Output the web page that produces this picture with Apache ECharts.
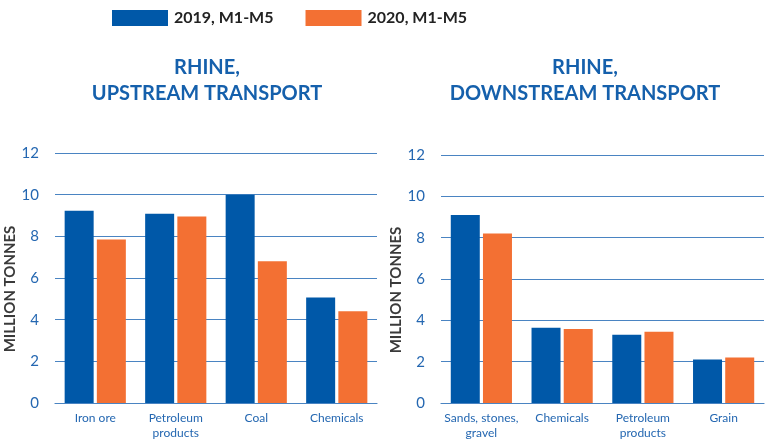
<!DOCTYPE html>
<html>
<head>
<meta charset="utf-8">
<script src="https://cdn.jsdelivr.net/npm/echarts@6/dist/echarts.min.js"></script>
<style>
  html, body { margin: 0; padding: 0; background: #fff; }
  #main { width: 768px; height: 441px; }
</style>
</head>
<body>
<div id="main"></div>
<script>
// 数据
var seriesNames = ['2019, M1-M5', '2020, M1-M5'];
var upCategories = ['Iron ore', 'Petroleum\nproducts', 'Coal', 'Chemicals'];
var up2019 = [9.23, 9.09, 10.0, 5.06];
var up2020 = [7.85, 8.95, 6.8, 4.4];
var downCategories = ['Sands, stones,\ngravel', 'Chemicals', 'Petroleum\nproducts', 'Grain'];
var down2019 = [9.1, 3.64, 3.3, 2.1];
var down2020 = [8.2, 3.58, 3.45, 2.2];
var yTicks = [0, 2, 4, 6, 8, 10, 12];

var blue = '#0058a8';
var orange = '#f37033';
var labelBlue = '#2467b1';
var gridBlue = '#4a84c2';
var font = 'Lato';

var myChart = echarts.init(document.getElementById('main'));

function yAxis(idx) {
    return {
        type: 'value',
        gridIndex: idx,
        min: yTicks[0],
        max: yTicks[yTicks.length - 1],
        interval: yTicks[1] - yTicks[0],
        name: 'MILLION TONNES',
        nameLocation: 'middle',
        nameGap: 36,
        nameTextStyle: {
            color: '#3a3a3a',
            fontFamily: font,
            fontWeight: 'bold',
            fontSize: 15,
            padding: [0, 22, 0, 0]
        },
        axisLine: {show: false},
        axisTick: {show: false},
        axisLabel: {
            color: labelBlue,
            fontFamily: font,
            fontSize: 15,
            margin: 16
        },
        splitLine: {lineStyle: {color: gridBlue, width: 1.2}}
    };
}

function xAxis(idx, cats) {
    return {
        type: 'category',
        gridIndex: idx,
        data: cats,
        axisLine: {lineStyle: {color: gridBlue, width: 1.2}},
        axisTick: {show: false},
        axisLabel: {
            color: labelBlue,
            fontFamily: font,
            fontSize: 12,
            lineHeight: 15,
            margin: 8,
            interval: 0
        }
    };
}

function bars(name, idx, data, color) {
    return {
        name: name,
        type: 'bar',
        xAxisIndex: idx,
        yAxisIndex: idx,
        data: data,
        barWidth: 29,
        barGap: '11%',
        itemStyle: {color: color},
        emphasis: {disabled: true}
    };
}

var titleStyle = {
    color: '#1560ac',
    fontFamily: font,
    fontWeight: 'bold',
    fontSize: 20,
    lineHeight: 26
};

option = {
    animation: false,
    legend: {
        data: seriesNames,
        top: 5,
        left: 107,
        itemWidth: 56,
        itemHeight: 16,
        itemGap: 32,
        icon: 'rect',
        textStyle: {
            color: '#222',
            fontFamily: font,
            fontWeight: 'bold',
            fontSize: 16,
            padding: [0, 0, 0, 1]
        }
    },
    title: [
        {text: 'RHINE,\nUPSTREAM TRANSPORT', left: 202, top: 50, textAlign: 'center', textStyle: titleStyle},
        {text: 'RHINE,\nDOWNSTREAM TRANSPORT', left: 580, top: 50, textAlign: 'center', textStyle: titleStyle}
    ],
    grid: [
        {left: 55, right: 391, top: 153, bottom: 37},
        {left: 441, right: 4, top: 155, bottom: 35}
    ],
    xAxis: [xAxis(0, upCategories), xAxis(1, downCategories)],
    yAxis: [yAxis(0), yAxis(1)],
    series: [
        bars(seriesNames[0], 0, up2019, blue),
        bars(seriesNames[1], 0, up2020, orange),
        bars(seriesNames[0], 1, down2019, blue),
        bars(seriesNames[1], 1, down2020, orange)
    ]
};
myChart.setOption(option);
</script>
</body>
</html>
